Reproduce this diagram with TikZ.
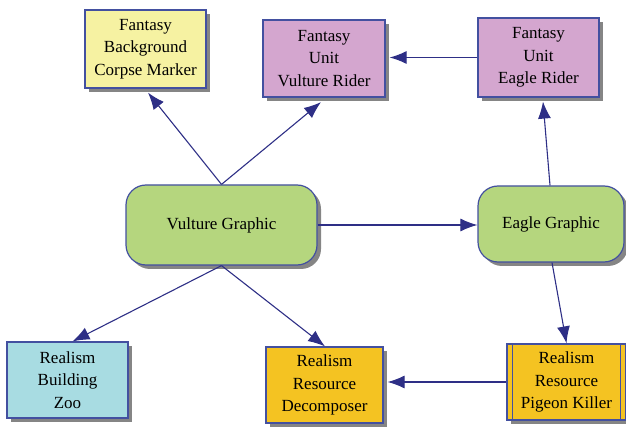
\documentclass[tikz,border=0pt]{standalone}
\usepackage{fontspec}
\setmainfont{Liberation Serif}
\newfontfamily\dfont{Liberation Serif}
\usetikzlibrary{shadows,arrows.meta,calc}
\definecolor{cyel}{HTML}{F6F2A2}
\definecolor{cpur}{HTML}{D4A6CF}
\definecolor{cgrn}{HTML}{B5D67E}
\definecolor{cblu}{HTML}{A8DCE2}
\definecolor{cgold}{HTML}{F4C322}
\definecolor{cedge}{HTML}{4350A0}
\definecolor{cshad}{HTML}{858585}
\definecolor{carrow}{HTML}{2E2F86}
\tikzset{
  base/.style={draw=cedge, line width=1.2pt, align=center, inner sep=0pt,
    font=\dfont\fontsize{17}{22.5}\selectfont,
    drop shadow={shadow xshift=4pt, shadow yshift=-4pt, fill=cshad, opacity=1}},
  box/.style={base, rectangle},
  rbox/.style={base, rectangle, rounded corners=20pt},
  conn/.style={draw=carrow, line width=1.1pt, -{Latex[length=17pt,width=13pt]}},
}
\begin{document}
\begin{tikzpicture}[x=1pt,y=-1pt]
\useasboundingbox (0,0) rectangle (626,430);
\node[box, fill=cyel, minimum width=121pt, minimum height=78pt] (corpse) at (145.5,49) {Fantasy\\Background\\Corpse Marker};
\node[box, fill=cpur, minimum width=122pt, minimum height=77pt] (vrider) at (324,58.5) {Fantasy\\Unit\\Vulture Rider};
\node[box, fill=cpur, minimum width=121pt, minimum height=79pt] (erider) at (538.5,57.5) {Fantasy\\Unit\\Eagle Rider};
\node[rbox, fill=cgrn, minimum width=191pt, minimum height=80pt] (vgraph) at (221.5,225) {Vulture Graphic};
\node[rbox, fill=cgrn, minimum width=146pt, minimum height=76pt] (egraph) at (551,224) {Eagle Graphic};
\node[box, fill=cblu, minimum width=121pt, minimum height=76pt] (zoo) at (67.5,380) {Realism\\Building\\Zoo};
\node[box, fill=cgold, minimum width=117pt, minimum height=76pt] (decomp) at (324.5,385) {Realism\\Resource\\Decomposer};
\node[box, fill=cgold, minimum width=119pt, minimum height=76pt] (pigeon) at (566.5,382) {Realism\\Resource\\Pigeon Killer};
\draw[draw=cedge, line width=1.2pt] ([xshift=6pt]pigeon.north west) -- ([xshift=6pt]pigeon.south west);
\draw[draw=cedge, line width=1.2pt] ([xshift=-6pt]pigeon.north east) -- ([xshift=-6pt]pigeon.south east);
% connectors
\draw[conn] (vgraph.north) -- ([xshift=2.5pt,yshift=-4pt]corpse.south);
\draw[conn] (vgraph.north) -- ([xshift=-3pt,yshift=-4.5pt]vrider.south);
\draw[conn] (erider.west) -- ([xshift=4pt]erider.west -| vrider.east);
\draw[conn] (vgraph.east) -- (vgraph.east -| egraph.west);
\draw[conn] ([xshift=-1pt]egraph.north) -- ([xshift=4.5pt,yshift=-4pt]erider.south);
\draw[conn] ([xshift=1pt]egraph.south) -- (pigeon.north);
\draw[conn] (vgraph.south) -- ([xshift=5pt]zoo.north);
\draw[conn] (vgraph.south) -- ([xshift=0.5pt]decomp.north);
\draw[conn] (pigeon.west) -- ([xshift=4pt]pigeon.west -| decomp.east);
\end{tikzpicture}
\end{document}
